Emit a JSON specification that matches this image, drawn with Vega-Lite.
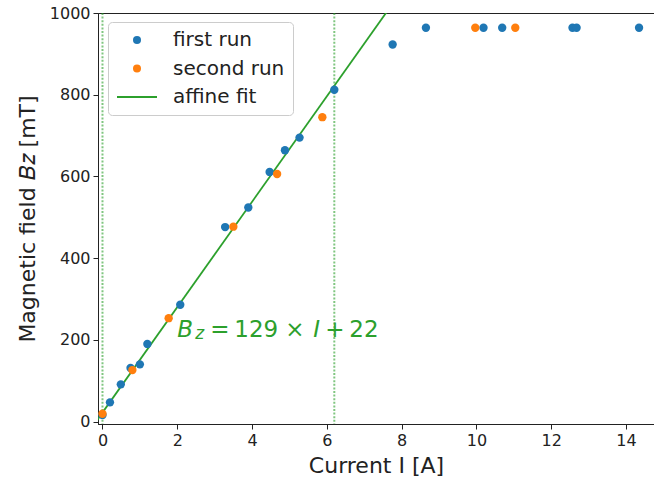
{
  "$schema": "https://vega.github.io/schema/vega-lite/v6.json",
  "width": 556,
  "height": 411,
  "autosize": {"type": "none"},
  "padding": {"left": 98, "top": 13, "right": 0, "bottom": 55},
  "background": "white",
  "config": {
    "font": "DejaVu Sans",
    "view": {"stroke": "#222222", "strokeWidth": 1},
    "axis": {
      "grid": false,
      "domainColor": "#222222",
      "tickColor": "#222222",
      "labelColor": "#222222",
      "titleColor": "#222222",
      "labelFont": "DejaVu Sans",
      "titleFont": "DejaVu Sans",
      "labelFontSize": 16,
      "titleFontSize": 22,
      "titleFontWeight": "normal",
      "tickSize": 5,
      "labelPadding": 3
    },
    "legend": {
      "title": null,
      "orient": "none",
      "legendX": 10,
      "legendY": 9,
      "labelFontSize": 20,
      "labelFont": "DejaVu Sans",
      "labelColor": "#222222",
      "symbolSize": 64,
      "symbolOffset": 11,
      "labelOffset": 26,
      "rowPadding": 8.5,
      "padding": 8,
      "strokeColor": "#cccccc",
      "cornerRadius": 4,
      "fillColor": "rgba(255,255,255,0.8)"
    }
  },
  "datasets": {
    "pts": [
      {"I": 0.0, "B": 16, "series": "first run"},
      {"I": 0.2, "B": 47, "series": "first run"},
      {"I": 0.49, "B": 91, "series": "first run"},
      {"I": 0.75, "B": 131, "series": "first run"},
      {"I": 1.0, "B": 140, "series": "first run"},
      {"I": 1.2, "B": 190, "series": "first run"},
      {"I": 2.08, "B": 286, "series": "first run"},
      {"I": 3.28, "B": 476, "series": "first run"},
      {"I": 3.9, "B": 524, "series": "first run"},
      {"I": 4.47, "B": 611, "series": "first run"},
      {"I": 4.88, "B": 664, "series": "first run"},
      {"I": 5.27, "B": 695, "series": "first run"},
      {"I": 6.2, "B": 812, "series": "first run"},
      {"I": 7.76, "B": 923, "series": "first run"},
      {"I": 8.65, "B": 964, "series": "first run"},
      {"I": 10.19, "B": 964, "series": "first run"},
      {"I": 10.69, "B": 964, "series": "first run"},
      {"I": 12.57, "B": 964, "series": "first run"},
      {"I": 12.68, "B": 964, "series": "first run"},
      {"I": 14.35, "B": 964, "series": "first run"},
      {"I": 0.0, "B": 19, "series": "second run"},
      {"I": 0.8, "B": 126, "series": "second run"},
      {"I": 1.77, "B": 253, "series": "second run"},
      {"I": 3.5, "B": 477, "series": "second run"},
      {"I": 4.67, "B": 606, "series": "second run"},
      {"I": 5.88, "B": 745, "series": "second run"},
      {"I": 9.97, "B": 964, "series": "second run"},
      {"I": 11.04, "B": 964, "series": "second run"}
    ],
    "fit": [
      {"I": -0.2, "B": -3.8, "series": "affine fit"},
      {"I": 7.8, "B": 1028.2, "series": "affine fit"}
    ],
    "vlines": [{"I": 0.0}, {"I": 6.2}],
    "ann": [{"I": 2.0, "B": 207}]
  },
  "encoding": {
    "x": {
      "field": "I", "type": "quantitative",
      "scale": {"domain": [-0.12, 14.75], "nice": false, "zero": false},
      "axis": {"values": [0, 2, 4, 6, 8, 10, 12, 14], "title": "Current I [A]", "titlePadding": 7}
    },
    "y": {
      "field": "B", "type": "quantitative",
      "scale": {"domain": [-6, 1000], "nice": false, "zero": false},
      "axis": {"values": [0, 200, 400, 600, 800, 1000], "format": "d", "title": "Magnetic field 𝐵𝑧 [mT]", "titlePadding": 10}
    }
  },
  "layer": [
    {
      "data": {"name": "vlines"},
      "mark": {"type": "rule", "color": "#2ca02c", "opacity": 0.6, "strokeWidth": 2, "strokeDash": [2, 1.6]},
      "encoding": {"x": {"field": "I", "type": "quantitative"}, "y": null}
    },
    {
      "data": {"name": "fit"},
      "mark": {"type": "line", "clip": true, "strokeWidth": 1.8},
      "encoding": {
        "color": {
          "field": "series", "type": "nominal",
          "scale": {"domain": ["first run", "second run", "affine fit"], "range": ["#1f77b4", "#ff7f0e", "#2ca02c"]},
          "legend": {
            "encode": {
              "symbols": {
                "update": {
                  "shape": {"signal": "datum.value === 'affine fit' ? 'stroke' : 'circle'"},
                  "size": {"signal": "datum.value === 'affine fit' ? 1600 : 64"},
                  "strokeWidth": {"signal": "datum.value === 'affine fit' ? 2 : 0"},
                  "fill": {"signal": "datum.value === 'affine fit' ? 'transparent' : scale('color', datum.value)"},
                  "stroke": {"signal": "scale('color', datum.value)"},
                  "opacity": {"value": 1}
                }
              }
            }
          }
        }
      }
    },
    {
      "data": {"name": "pts"},
      "mark": {"type": "circle", "size": 70, "opacity": 1},
      "encoding": {
        "color": {
          "field": "series", "type": "nominal",
          "legend": {
            "encode": {
              "symbols": {
                "update": {
                  "shape": {"signal": "datum.value === 'affine fit' ? 'stroke' : 'circle'"},
                  "size": {"signal": "datum.value === 'affine fit' ? 1600 : 64"},
                  "strokeWidth": {"signal": "datum.value === 'affine fit' ? 2 : 0"},
                  "fill": {"signal": "datum.value === 'affine fit' ? 'transparent' : scale('color', datum.value)"},
                  "stroke": {"signal": "scale('color', datum.value)"},
                  "opacity": {"value": 1}
                }
              }
            }
          }
        },
        "order": {"field": "series", "type": "nominal"}
      }
    },
    {
      "data": {"name": "ann"},
      "mark": {"type": "text", "text": "B", "fontStyle": "italic", "fontSize": 23, "align": "left", "baseline": "alphabetic", "color": "#2ca02c", "dx": 0},
      "encoding": {}
    },
    {
      "data": {"name": "ann"},
      "mark": {"type": "text", "text": "z", "fontStyle": "italic", "fontSize": 17, "align": "left", "baseline": "alphabetic", "color": "#2ca02c", "dx": 18, "dy": 2.5},
      "encoding": {}
    },
    {
      "data": {"name": "ann"},
      "mark": {"type": "text", "text": "=", "fontSize": 23, "align": "left", "baseline": "alphabetic", "color": "#2ca02c", "dx": 33},
      "encoding": {}
    },
    {
      "data": {"name": "ann"},
      "mark": {"type": "text", "text": "129", "fontSize": 23, "align": "left", "baseline": "alphabetic", "color": "#2ca02c", "dx": 57},
      "encoding": {}
    },
    {
      "data": {"name": "ann"},
      "mark": {"type": "text", "text": "×", "fontSize": 23, "align": "left", "baseline": "alphabetic", "color": "#2ca02c", "dx": 108},
      "encoding": {}
    },
    {
      "data": {"name": "ann"},
      "mark": {"type": "text", "text": "I", "fontStyle": "italic", "fontSize": 23, "align": "left", "baseline": "alphabetic", "color": "#2ca02c", "dx": 136},
      "encoding": {}
    },
    {
      "data": {"name": "ann"},
      "mark": {"type": "text", "text": "+", "fontSize": 23, "align": "left", "baseline": "alphabetic", "color": "#2ca02c", "dx": 148},
      "encoding": {}
    },
    {
      "data": {"name": "ann"},
      "mark": {"type": "text", "text": "22", "fontSize": 23, "align": "left", "baseline": "alphabetic", "color": "#2ca02c", "dx": 172},
      "encoding": {}
    }
  ]
}
